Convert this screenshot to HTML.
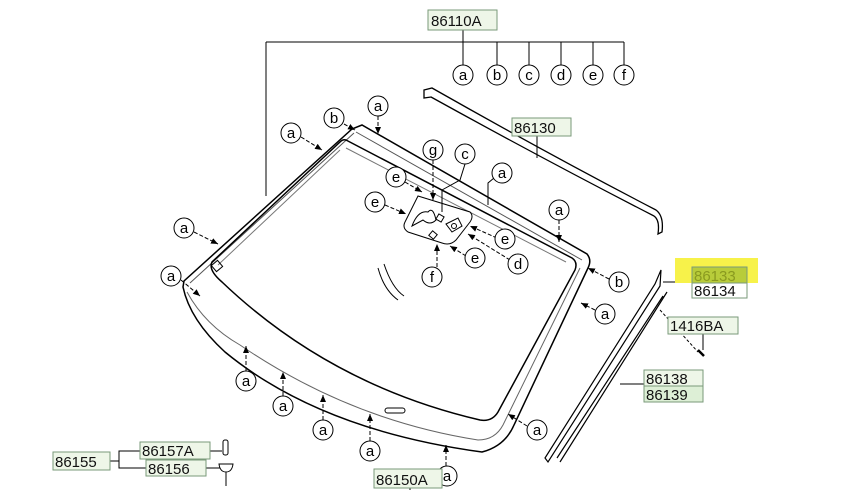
<!DOCTYPE html>
<html><head><meta charset="utf-8"><style>
html,body{margin:0;padding:0;background:#fff;}
svg{display:block;}
text{font-family:"Liberation Sans",sans-serif;}
</style></head><body>
<svg width="847" height="490" viewBox="0 0 847 490" xmlns="http://www.w3.org/2000/svg">
<defs>
<marker id="ar" markerWidth="8" markerHeight="8" refX="7" refY="3" orient="auto" markerUnits="userSpaceOnUse"><path d="M0,0 L7,3 L0,6z" fill="#000"/></marker>
</defs>
<g fill="none" stroke="#000" stroke-width="1">
<!-- top bracket -->
<line x1="463" y1="30" x2="463" y2="65"/>
<line x1="266" y1="42" x2="624" y2="42"/>
<line x1="266" y1="42" x2="266" y2="196"/>
<line x1="497" y1="42" x2="497" y2="65"/><line x1="529" y1="42" x2="529" y2="65"/>
<line x1="561" y1="42" x2="561" y2="65"/><line x1="593" y1="42" x2="593" y2="65"/>
<line x1="624" y1="42" x2="624" y2="65"/>
<!-- glass outer -->
<path d="M352,129 L362,125 L587,254 Q592,260 588,268 L514,425 Q505,446 482,452 Q320,430 225,352 Q190,320 183,287 L184,281 Z" stroke-width="1.5"/>
<path d="M356,132 L582,260 M190,283 L354,133" stroke="#555"/>
<path d="M187,292 Q205,325 240,345 Q350,420 478,440 Q495,440 503,425 L580,268" stroke="#666"/>
<!-- inner frit -->
<path d="M346,140 L572,258 Q578,262 575,270 L498,412 Q492,422 480,420 Q330,385 222,282 Q208,270 212,262 L340,142 Q343,139 346,140 Z" stroke-width="1.5"/>
<path d="M346,148 L566,262 M218,265 L340,150" stroke="#777"/>
<rect x="213" y="262" width="8" height="8" transform="rotate(-40 217 266)"/>
<rect x="385" y="408" width="20" height="5" rx="2.5"/>
<!-- mirror patch -->
<path d="M418,196 L470,212 Q474,216 470,222 L456,240 Q450,246 442,243 L408,232 Q402,228 405,222 Z" fill="#fff"/>
<path d="M412,226 Q418,210 428,212 Q433,206 436,220 Q430,226 423,220 Z"/>
<rect x="437" y="215" width="6" height="6" transform="rotate(30 440 218)"/>
<path d="M446,224 L458,218 L462,226 L452,232 Z"/><circle cx="454" cy="226" r="2.5"/>
<rect x="430" y="232" width="6" height="6" transform="rotate(40 433 235)"/>
<!-- reflection lines -->
<path d="M378,268 Q384,290 398,300 M384,264 Q392,288 404,296"/>
<!-- top molding 86130 -->
<path d="M424,90 L432,88 Q550,155 656,210 Q664,216 662,232 L658,234 Q660,220 654,216 Q545,160 431,97 L424,98 Z" stroke-width="1.3"/>
<line x1="537" y1="136" x2="537" y2="158"/>
<!-- right molding -->
<path d="M661,270 L655,284 L545,458 L548,462 L660,286 Z" stroke-width="1.2"/>
<path d="M667,292 L560,462 M663,296 L557,458" stroke-width="1.2"/>
<line x1="663" y1="282" x2="692" y2="282"/>
<line x1="620" y1="384" x2="644" y2="384"/>
<path d="M660,310 L698,352" stroke-dasharray="3,2"/>
<line x1="703" y1="334" x2="703" y2="350"/>
<path d="M698,350 L704,356" stroke-width="2.5"/>
<!-- bottom left -->
<line x1="110" y1="461" x2="119" y2="461"/>
<path d="M140,451 L119,451 L119,468 L146,468"/>
<line x1="210" y1="451" x2="222" y2="451"/><line x1="206" y1="468" x2="220" y2="468"/>
<rect x="223" y="440" width="5" height="15" rx="2"/>
<path d="M219,464 L233,464 Q232,472 226,472 Q220,472 219,464 Z M226,472 L226,486"/>
<line x1="410" y1="488" x2="410" y2="490"/>
<!-- leaders -->
<g stroke-dasharray="4,2" marker-end="url(#ar)">
<line x1="301" y1="137" x2="322" y2="150"/>
<line x1="344" y1="124" x2="355" y2="130"/>
<line x1="378" y1="116" x2="378" y2="134"/>
<line x1="194" y1="232" x2="218" y2="244"/>
<line x1="181" y1="280" x2="200" y2="296"/>
<line x1="405" y1="182" x2="422" y2="192"/>
<line x1="385" y1="205" x2="406" y2="214"/>
<line x1="433" y1="160" x2="433" y2="200"/>
<line x1="437" y1="267" x2="437" y2="244"/>
<line x1="497" y1="238" x2="470" y2="226"/>
<line x1="466" y1="256" x2="450" y2="246"/>
<line x1="510" y1="260" x2="468" y2="234"/>
<line x1="559" y1="220" x2="559" y2="242"/>
<line x1="609" y1="279" x2="588" y2="268"/>
<line x1="595" y1="310" x2="581" y2="303"/>
<line x1="527" y1="426" x2="508" y2="414"/>
<line x1="246" y1="371" x2="246" y2="346"/>
<line x1="283" y1="396" x2="283" y2="372"/>
<line x1="323" y1="420" x2="323" y2="395"/>
<line x1="370" y1="441" x2="370" y2="414"/>
<line x1="446" y1="466" x2="446" y2="445"/>
</g>
<path d="M494,178 L488,183 L488,205 M465,164 L460,180 L442,190 L442,212"/>
</g>
<!-- circles -->
<g fill="#fff" stroke="#000" stroke-width="1">
<circle cx="463" cy="75" r="10"/><circle cx="497" cy="75" r="10"/><circle cx="529" cy="75" r="10"/>
<circle cx="561" cy="75" r="10"/><circle cx="593" cy="75" r="10"/><circle cx="624" cy="75" r="10"/>
<circle cx="378" cy="106" r="10"/><circle cx="334" cy="118" r="10"/><circle cx="291" cy="133" r="10"/>
<circle cx="433" cy="150" r="10"/><circle cx="465" cy="154" r="10"/><circle cx="502" cy="173" r="10"/>
<circle cx="396" cy="177" r="10"/><circle cx="375" cy="202" r="10"/><circle cx="559" cy="210" r="10"/>
<circle cx="184" cy="228" r="10"/><circle cx="505" cy="239" r="10"/><circle cx="171" cy="276" r="10"/>
<circle cx="475" cy="258" r="10"/><circle cx="518" cy="264" r="10"/><circle cx="432" cy="277" r="10"/>
<circle cx="619" cy="282" r="10"/><circle cx="605" cy="314" r="10"/><circle cx="246" cy="381" r="10"/>
<circle cx="283" cy="406" r="10"/><circle cx="323" cy="430" r="10"/><circle cx="370" cy="451" r="10"/>
<circle cx="537" cy="430" r="10"/><circle cx="447" cy="476" r="10"/>
</g>
<g font-size="15" text-anchor="middle" fill="#000">
<text x="463" y="80">a</text><text x="497" y="80">b</text><text x="529" y="80">c</text>
<text x="561" y="80">d</text><text x="593" y="80">e</text><text x="624" y="80">f</text>
<text x="378" y="111">a</text><text x="334" y="123">b</text><text x="291" y="138">a</text>
<text x="433" y="155">g</text><text x="465" y="159">c</text><text x="502" y="178">a</text>
<text x="396" y="182">e</text><text x="375" y="207">e</text><text x="559" y="215">a</text>
<text x="184" y="233">a</text><text x="505" y="244">e</text><text x="171" y="281">a</text>
<text x="475" y="263">e</text><text x="518" y="269">d</text><text x="432" y="282">f</text>
<text x="619" y="287">b</text><text x="605" y="319">a</text><text x="246" y="386">a</text>
<text x="283" y="411">a</text><text x="323" y="435">a</text><text x="370" y="456">a</text>
<text x="537" y="435">a</text><text x="447" y="481">a</text>
</g>
<!-- label boxes -->
<rect x="675" y="258" width="83" height="25" fill="#f7f24a"/>
<g stroke="#7a9a7a" stroke-width="1" fill="#eef6e8">
<rect x="428" y="10" width="69" height="20"/>
<rect x="512" y="118" width="59" height="18"/>
<rect x="692" y="267" width="55" height="16" fill="#b8cc3a"/>
<rect x="692" y="283" width="55" height="15" fill="#fff"/>
<rect x="668" y="317" width="70" height="17"/>
<rect x="644" y="370" width="59" height="16"/>
<rect x="644" y="386" width="59" height="16" fill="#ddefd6"/>
<rect x="53" y="452" width="57" height="18"/>
<rect x="140" y="442" width="70" height="17"/>
<rect x="146" y="460" width="60" height="16"/>
<rect x="374" y="469" width="68" height="19"/>
</g>
<g font-size="15" fill="#111">
<text x="431" y="26">86110A</text>
<text x="514" y="133">86130</text>
<text x="694" y="281" fill="#8a9a20">86133</text>
<text x="694" y="296">86134</text>
<text x="670" y="331">1416BA</text>
<text x="646" y="384">86138</text>
<text x="646" y="400">86139</text>
<text x="55" y="467">86155</text>
<text x="142" y="456">86157A</text>
<text x="148" y="474">86156</text>
<text x="376" y="485">86150A</text>
</g>
</svg>
</body></html>
